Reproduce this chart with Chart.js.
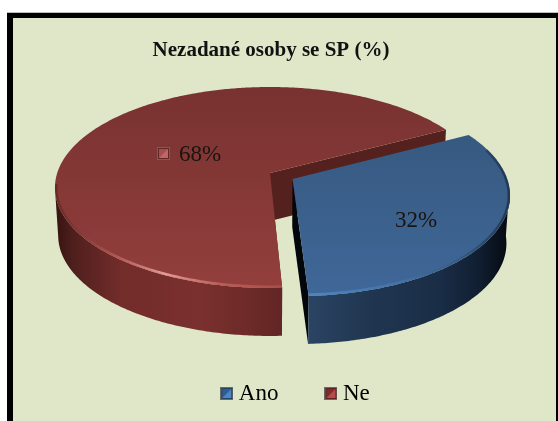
<!DOCTYPE html>
<html><head><meta charset="utf-8">
<script src="https://cdn.jsdelivr.net/npm/chart.js@4"></script>
<style>
html,body{margin:0;padding:0;background:#fff;width:558px;height:421px;overflow:hidden}
#frame{position:absolute;left:7px;top:13px;width:543px;height:420px;background:#DFE7C8;border:solid #000;border-width:5px 2px 0 6px;box-shadow:0 -1px 0 #bdbdbd}
#c{position:absolute;left:0;top:0}
</style></head><body>
<div id="frame"></div>
<canvas id="c" width="558" height="421"></canvas>
<script>
const titleText = 'Nezadané osoby se SP (%)';
const categories = ['Ano', 'Ne'];
const values = [32, 68];
const sliceColors = ['#3B6290', '#8A3B39'];

const SERIF = '"Liberation Serif","Times New Roman",serif';
const view = {cx:270, cy:173, A:212.8, B:98.4, k:-0.144, depth:48};

function project(u, v, d) {
  d = d || 0;
  const w = 1 + view.k * v;
  const sx = 1 - 0.015 * d / view.depth;
  return {x: view.cx + view.A * u / w * sx, y: view.cy + view.B * v / w + d};
}
function rimPoints(arc) {
  const off = (arc.options.offset || 0) / 4 / arc.outerRadius;
  const mid = (arc.startAngle + arc.endAngle) / 2;
  const ox = Math.cos(mid) * off, oy = Math.sin(mid) * off;
  const pts = [], n = Math.ceil((arc.endAngle - arc.startAngle) * 90);
  for (let i = 0; i <= n; i++) {
    const a = arc.startAngle + (arc.endAngle - arc.startAngle) * i / n;
    pts.push({u: Math.cos(a) + ox, v: Math.sin(a) + oy});
  }
  return {ox, oy, pts};
}
function poly(ctx, list) {
  ctx.beginPath();
  list.forEach((p, i) => i ? ctx.lineTo(p.x, p.y) : ctx.moveTo(p.x, p.y));
  ctx.closePath();
}
function hGrad(ctx, stops) {
  const x0 = stops[0][0], x1 = stops[stops.length - 1][0];
  const g = ctx.createLinearGradient(x0, 0, x1, 0);
  stops.forEach(s => g.addColorStop((s[0] - x0) / (x1 - x0), s[1]));
  return g;
}
function vGrad(ctx, y0, c0, y1, c1) {
  const g = ctx.createLinearGradient(0, y0, 0, y1);
  g.addColorStop(0, c0); g.addColorStop(1, c1);
  return g;
}
const looks = [
  {top:['#345579','#3F6798'], side:[[300,'#2C4666'],[370,'#203650'],[440,'#1A2D47'],[480,'#101E30'],[508,'#050A12']],
   bevel:[[300,'rgba(84,136,198,.95)'],[400,'rgba(70,116,170,.85)'],[460,'rgba(50,84,124,.6)'],[508,'rgba(14,26,42,.55)']], bevelFrom:-0.25},
  {top:['#783230','#933F3D'], side:[[55,'#361311'],[75,'#50201E'],[120,'#722C2A'],[200,'#7A302E'],[282,'#632624']],
   bevel:[[55,'rgba(90,34,32,.7)'],[110,'rgba(176,86,82,.8)'],[165,'rgba(232,160,154,.95)'],[220,'rgba(190,96,92,.9)'],[282,'rgba(176,78,74,.9)']], bevelFrom:0.1}
];
function drawSlice(ctx, arc, look, index) {
  const r = rimPoints(arc);
  const top = r.pts.map(p => project(p.u, p.v));
  const apex = project(r.ox, r.oy);
  const apexLow = project(r.ox, r.oy, view.depth);
  const first = r.pts[0], last = r.pts[r.pts.length - 1];
  if (index === 1) {
    ctx.fillStyle = '#55211F';
    poly(ctx, [apex, project(first.u, first.v), project(first.u, first.v, view.depth), apexLow]);
    ctx.fill();
    poly(ctx, [apex, project(last.u, last.v), project(last.u, last.v, view.depth), apexLow]);
    ctx.fill();
  } else {
    ctx.fillStyle = '#03060A';
    poly(ctx, [apex, project(last.u, last.v), project(last.u, last.v, view.depth), apexLow]);
    ctx.fill();
  }
  const front = r.pts.filter(p => p.v >= -view.k);
  const sideTop = front.map(p => project(p.u, p.v));
  const sideLow = front.map(p => project(p.u, p.v, view.depth)).reverse();
  ctx.fillStyle = hGrad(ctx, look.side);
  poly(ctx, sideTop.concat(sideLow));
  ctx.fill();
  const outline = [apex].concat(top);
  ctx.fillStyle = vGrad(ctx, 87, look.top[0], 293, look.top[1]);
  poly(ctx, outline);
  ctx.fill();
  ctx.save();
  poly(ctx, outline);
  ctx.clip();
  ctx.strokeStyle = hGrad(ctx, look.bevel);
  ctx.lineWidth = 5;
  ctx.lineJoin = 'round';
  ctx.beginPath();
  r.pts.filter(p => p.v >= look.bevelFrom).forEach((p, i) => {
    const q = project(p.u, p.v);
    i ? ctx.lineTo(q.x, q.y) : ctx.moveTo(q.x, q.y);
  });
  ctx.stroke();
  ctx.restore();
}
function bevelSquare(fill, dark, light, size) {
  const cv = document.createElement('canvas');
  cv.width = cv.height = size;
  const g = cv.getContext('2d');
  g.fillStyle = '#6b6b62'; g.fillRect(0, 0, size, size);
  g.fillStyle = dark; g.fillRect(1, 1, size - 2, size - 2);
  g.fillStyle = fill; g.fillRect(2, 2, size - 4, size - 4);
  g.fillStyle = light;
  g.beginPath(); g.moveTo(size - 2, 2); g.lineTo(size - 2, size - 2); g.lineTo(2, size - 2); g.closePath(); g.fill();
  return cv;
}
const markers = [
  bevelSquare('#2F5C94', '#27425F', '#4B86C8', 13),
  bevelSquare('#7E2A2C', '#5A2424', '#B84A4C', 13)
];
const innerMarker = bevelSquare('#A85252', '#5C2625', '#C96C68', 13);
const labelSpots = [{x:416, y:221}, {x:200, y:155}];

const pie3d = {
  id: 'pie3d',
  afterLayout(chart) {
    chart.legend.left += 19; chart.legend.right += 19;
    chart.titleBlock.left -= 8; chart.titleBlock.right -= 8;
  },
  beforeDatasetsDraw(chart) {
    const ctx = chart.ctx, arcs = chart.getDatasetMeta(0).data;
    ctx.save();
    drawSlice(ctx, arcs[1], looks[1], 1);
    drawSlice(ctx, arcs[0], looks[0], 0);
    ctx.fillStyle = '#1a1410';
    ctx.font = '23px ' + SERIF;
    ctx.textAlign = 'center';
    ctx.textBaseline = 'middle';
    values.forEach((val, i) => ctx.fillText(val + '%', labelSpots[i].x, labelSpots[i].y));
    ctx.globalAlpha = 0.9;
    ctx.drawImage(innerMarker, 157, 147);
    ctx.restore();
    return false;
  }
};

new Chart(document.getElementById('c'), {
  type: 'pie',
  plugins: [pie3d],
  data: {
    labels: categories,
    datasets: [{data: values, backgroundColor: sliceColors, offset: [50, 0], borderWidth: 0}]
  },
  options: {
    responsive: false,
    animation: false,
    rotation: 62,
    layout: {padding: {top: 36, bottom: 6}},
    plugins: {
      tooltip: {enabled: false},
      title: {
        display: true, text: titleText, color: '#111',
        font: {family: SERIF, size: 21, weight: 'bold'},
        padding: {top: 2, bottom: 10}
      },
      legend: {
        position: 'bottom',
        labels: {
          color: '#222',
          font: {family: SERIF, size: 23},
          usePointStyle: true,
          pointStyleWidth: 1,
          padding: 52,
          generateLabels(chart) {
            return categories.map((name, i) => ({
              text: name, fillStyle: sliceColors[i], strokeStyle: sliceColors[i],
              pointStyle: markers[i], index: i, hidden: false, lineWidth: 0
            }));
          }
        }
      }
    }
  }
});
</script>
</body></html>
